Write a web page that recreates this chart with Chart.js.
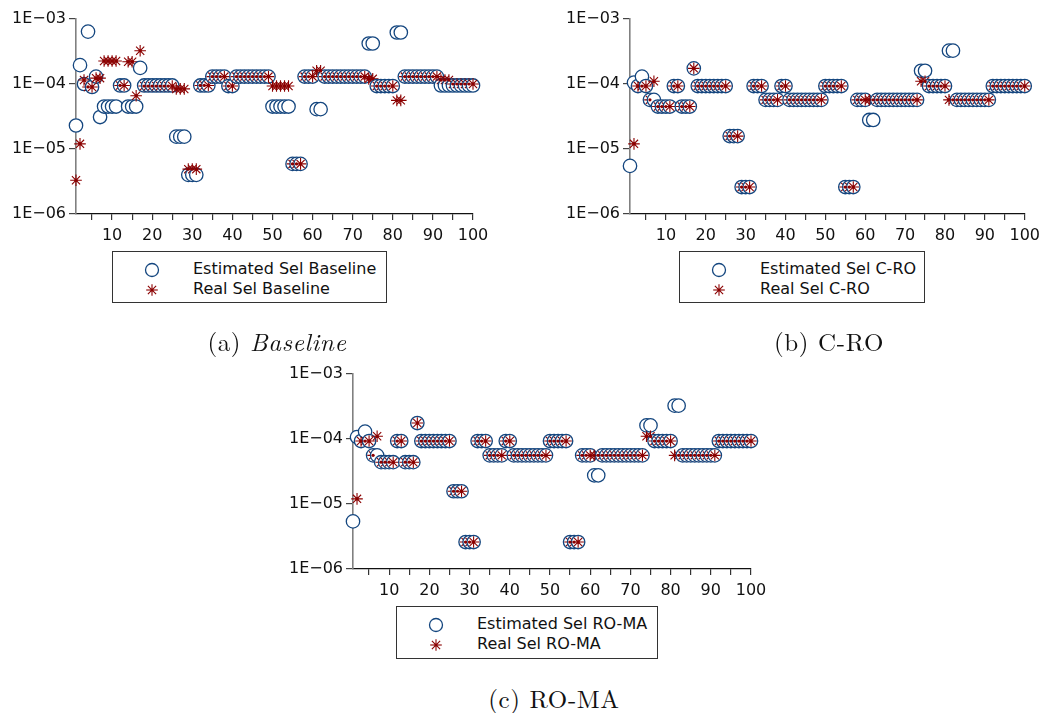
<!DOCTYPE html>
<html>
<head>
<meta charset="utf-8">
<script src="https://cdn.jsdelivr.net/npm/chart.js@4.4.0/dist/chart.umd.min.js"></script>
<style>
  body { margin: 0; background: #fff; width: 1046px; height: 713px; position: relative; overflow: hidden; }
  .panel { position: absolute; }
  .legend { position: absolute; border: 1.3px solid #333; background: #fff; font-family: "DejaVu Sans", sans-serif; font-size: 16px; color: #111; box-sizing: border-box; }
  .legend .row { position: absolute; left: 0; height: 20px; line-height: 20px; white-space: nowrap; }
  .legend svg { position: absolute; top: 3px; }
  .legend span { position: absolute; }
  .caption { position: absolute; font-family: "Latin Modern Roman", "CMU Serif", "Liberation Serif", serif; font-size: 25px; letter-spacing: 0.6px; color: #111; text-align: center; width: 300px; }
</style>
</head>
<body>

<div class="panel" style="left:0px; top:0px; width:500px; height:240px;"><canvas id="chartA"></canvas></div>
<div class="panel" style="left:554px; top:0px; width:492px; height:240px;"><canvas id="chartB"></canvas></div>
<div class="panel" style="left:277px; top:355px; width:500px; height:240px;"><canvas id="chartC"></canvas></div>

<div id="legA" class="legend" style="left:112px; top:251px; width:275px; height:52px;"></div>
<div id="legB" class="legend" style="left:679px; top:251px; width:246px; height:52px;"></div>
<div id="legC" class="legend" style="left:396px; top:606px; width:262px; height:53px;"></div>

<div class="caption" style="left:127px; top:323px;">(a) <i>Baseline</i></div>
<div class="caption" style="left:679px; top:323px;">(b) C-RO</div>
<div class="caption" style="left:404px; top:680px;">(c) RO-MA</div>

<script>
// query index 1..100
var queries = [];
for (var q = 1; q <= 100; q++) queries.push(q);

var xTicks = [5, 10, 15, 20, 25, 30, 35, 40, 45, 50, 55, 60, 65, 70, 75, 80, 85, 90, 95, 100];
var yTicks = [1e-6, 1e-5, 1e-4, 1e-3];
var yTickLabels = ['1E\u221206', '1E\u221205', '1E\u221204', '1E\u221203'];

// (a) Baseline
var estBaseline = [
  2.3e-5, 1.95e-4, 1.0e-4, 6.4e-4, 9.0e-5, 1.3e-4, 3.1e-5, 4.5e-5, 4.5e-5, 4.5e-5,
  4.5e-5, 9.5e-5, 9.5e-5, 4.5e-5, 4.5e-5, 4.5e-5, 1.77e-4, 9.5e-5, 9.5e-5, 9.5e-5,
  9.5e-5, 9.5e-5, 9.5e-5, 9.5e-5, 9.5e-5, 1.55e-5, 1.55e-5, 1.55e-5, 4.0e-6, 4.0e-6,
  4.0e-6, 9.5e-5, 9.5e-5, 9.5e-5, 1.3e-4, 1.3e-4, 1.3e-4, 1.3e-4, 9.3e-5, 9.3e-5,
  1.3e-4, 1.3e-4, 1.3e-4, 1.3e-4, 1.3e-4, 1.3e-4, 1.3e-4, 1.3e-4, 1.3e-4, 4.5e-5,
  4.5e-5, 4.5e-5, 4.5e-5, 4.5e-5, 5.9e-6, 5.9e-6, 5.9e-6, 1.3e-4, 1.3e-4, 1.3e-4,
  4.1e-5, 4.1e-5, 1.3e-4, 1.3e-4, 1.3e-4, 1.3e-4, 1.3e-4, 1.3e-4, 1.3e-4, 1.3e-4,
  1.3e-4, 1.3e-4, 1.3e-4, 4.2e-4, 4.2e-4, 9.3e-5, 9.3e-5, 9.3e-5, 9.3e-5, 9.3e-5,
  6.2e-4, 6.2e-4, 1.3e-4, 1.3e-4, 1.3e-4, 1.3e-4, 1.3e-4, 1.3e-4, 1.3e-4, 1.3e-4,
  1.3e-4, 9.5e-5, 9.5e-5, 9.5e-5, 9.5e-5, 9.5e-5, 9.5e-5, 9.5e-5, 9.5e-5, 9.5e-5
];
var realBaseline = [
  3.3e-6, 1.2e-5, 1.15e-4, 9.0e-5, 9.0e-5, 1.23e-4, 1.23e-4, 2.26e-4, 2.26e-4, 2.26e-4,
  2.26e-4, 9.5e-5, 9.5e-5, 2.2e-4, 2.2e-4, 6.6e-5, 3.25e-4, 9.3e-5, 9.3e-5, 9.3e-5,
  9.3e-5, 9.3e-5, 9.3e-5, 9.3e-5, 9.3e-5, 8.4e-5, 8.4e-5, 8.4e-5, 4.9e-6, 4.9e-6,
  4.9e-6, 9.5e-5, 9.5e-5, 9.5e-5, 1.3e-4, 1.3e-4, 1.3e-4, 1.3e-4, 9.3e-5, 9.3e-5,
  1.3e-4, 1.3e-4, 1.3e-4, 1.3e-4, 1.3e-4, 1.3e-4, 1.3e-4, 1.3e-4, 1.3e-4, 9.3e-5,
  9.3e-5, 9.3e-5, 9.3e-5, 9.3e-5, 5.9e-6, 5.9e-6, 5.9e-6, 1.3e-4, 1.3e-4, 1.3e-4,
  1.6e-4, 1.6e-4, 1.3e-4, 1.3e-4, 1.3e-4, 1.3e-4, 1.3e-4, 1.3e-4, 1.3e-4, 1.3e-4,
  1.3e-4, 1.3e-4, 1.3e-4, 1.2e-4, 1.2e-4, 9.3e-5, 9.3e-5, 9.3e-5, 9.3e-5, 9.3e-5,
  5.6e-5, 5.6e-5, 1.3e-4, 1.3e-4, 1.3e-4, 1.3e-4, 1.3e-4, 1.3e-4, 1.3e-4, 1.3e-4,
  1.3e-4, 1.15e-4, 1.15e-4, 1.15e-4, 1.0e-4, 1.0e-4, 1.0e-4, 1.0e-4, 1.0e-4, 1.0e-4
];

// (b) C-RO
var estCRO = [
  5.5e-6, 1.05e-4, 9.3e-5, 1.3e-4, 9.3e-5, 5.7e-5, 5.7e-5, 4.5e-5, 4.5e-5, 4.5e-5,
  4.5e-5, 9.3e-5, 9.3e-5, 4.5e-5, 4.5e-5, 4.5e-5, 1.74e-4, 9.3e-5, 9.3e-5, 9.3e-5,
  9.3e-5, 9.3e-5, 9.3e-5, 9.3e-5, 9.3e-5, 1.58e-5, 1.58e-5, 1.58e-5, 2.6e-6, 2.6e-6,
  2.6e-6, 9.3e-5, 9.3e-5, 9.3e-5, 5.7e-5, 5.7e-5, 5.7e-5, 5.7e-5, 9.3e-5, 9.3e-5,
  5.7e-5, 5.7e-5, 5.7e-5, 5.7e-5, 5.7e-5, 5.7e-5, 5.7e-5, 5.7e-5, 5.7e-5, 9.3e-5,
  9.3e-5, 9.3e-5, 9.3e-5, 9.3e-5, 2.6e-6, 2.6e-6, 2.6e-6, 5.7e-5, 5.7e-5, 5.7e-5,
  2.8e-5, 2.8e-5, 5.7e-5, 5.7e-5, 5.7e-5, 5.7e-5, 5.7e-5, 5.7e-5, 5.7e-5, 5.7e-5,
  5.7e-5, 5.7e-5, 5.7e-5, 1.6e-4, 1.6e-4, 9.3e-5, 9.3e-5, 9.3e-5, 9.3e-5, 9.3e-5,
  3.26e-4, 3.26e-4, 5.7e-5, 5.7e-5, 5.7e-5, 5.7e-5, 5.7e-5, 5.7e-5, 5.7e-5, 5.7e-5,
  5.7e-5, 9.3e-5, 9.3e-5, 9.3e-5, 9.3e-5, 9.3e-5, 9.3e-5, 9.3e-5, 9.3e-5, 9.3e-5
];
var realCRO = [
  null, 1.2e-5, 9.3e-5, 9.3e-5, 9.3e-5, 5.7e-5, 1.1e-4, 4.5e-5, 4.5e-5, 4.5e-5,
  4.5e-5, 9.3e-5, 9.3e-5, 4.5e-5, 4.5e-5, 4.5e-5, 1.74e-4, 9.3e-5, 9.3e-5, 9.3e-5,
  9.3e-5, 9.3e-5, 9.3e-5, 9.3e-5, 9.3e-5, 1.58e-5, 1.58e-5, 1.58e-5, 2.6e-6, 2.6e-6,
  2.6e-6, 9.3e-5, 9.3e-5, 9.3e-5, 5.7e-5, 5.7e-5, 5.7e-5, 5.7e-5, 9.3e-5, 9.3e-5,
  5.7e-5, 5.7e-5, 5.7e-5, 5.7e-5, 5.7e-5, 5.7e-5, 5.7e-5, 5.7e-5, 5.7e-5, 9.3e-5,
  9.3e-5, 9.3e-5, 9.3e-5, 9.3e-5, 2.6e-6, 2.6e-6, 2.6e-6, 5.7e-5, 5.7e-5, 5.7e-5,
  5.7e-5, 5.7e-5, 5.7e-5, 5.7e-5, 5.7e-5, 5.7e-5, 5.7e-5, 5.7e-5, 5.7e-5, 5.7e-5,
  5.7e-5, 5.7e-5, 5.7e-5, 1.1e-4, 1.1e-4, 9.3e-5, 9.3e-5, 9.3e-5, 9.3e-5, 9.3e-5,
  5.7e-5, 5.7e-5, 5.7e-5, 5.7e-5, 5.7e-5, 5.7e-5, 5.7e-5, 5.7e-5, 5.7e-5, 5.7e-5,
  5.7e-5, 9.3e-5, 9.3e-5, 9.3e-5, 9.3e-5, 9.3e-5, 9.3e-5, 9.3e-5, 9.3e-5, 9.3e-5
];

// (c) RO-MA
var estROMA = [
  5.4e-6, 1.07e-4, 9.3e-5, 1.3e-4, 9.3e-5, 5.6e-5, 5.6e-5, 4.4e-5, 4.4e-5, 4.4e-5,
  4.4e-5, 9.3e-5, 9.3e-5, 4.4e-5, 4.4e-5, 4.4e-5, 1.76e-4, 9.3e-5, 9.3e-5, 9.3e-5,
  9.3e-5, 9.3e-5, 9.3e-5, 9.3e-5, 9.3e-5, 1.57e-5, 1.57e-5, 1.57e-5, 2.6e-6, 2.6e-6,
  2.6e-6, 9.3e-5, 9.3e-5, 9.3e-5, 5.6e-5, 5.6e-5, 5.6e-5, 5.6e-5, 9.3e-5, 9.3e-5,
  5.6e-5, 5.6e-5, 5.6e-5, 5.6e-5, 5.6e-5, 5.6e-5, 5.6e-5, 5.6e-5, 5.6e-5, 9.3e-5,
  9.3e-5, 9.3e-5, 9.3e-5, 9.3e-5, 2.6e-6, 2.6e-6, 2.6e-6, 5.6e-5, 5.6e-5, 5.6e-5,
  2.76e-5, 2.76e-5, 5.6e-5, 5.6e-5, 5.6e-5, 5.6e-5, 5.6e-5, 5.6e-5, 5.6e-5, 5.6e-5,
  5.6e-5, 5.6e-5, 5.6e-5, 1.62e-4, 1.62e-4, 9.3e-5, 9.3e-5, 9.3e-5, 9.3e-5, 9.3e-5,
  3.26e-4, 3.26e-4, 5.6e-5, 5.6e-5, 5.6e-5, 5.6e-5, 5.6e-5, 5.6e-5, 5.6e-5, 5.6e-5,
  5.6e-5, 9.3e-5, 9.3e-5, 9.3e-5, 9.3e-5, 9.3e-5, 9.3e-5, 9.3e-5, 9.3e-5, 9.3e-5
];
var realROMA = [
  null, 1.2e-5, 9.3e-5, 9.3e-5, 9.3e-5, 5.6e-5, 1.1e-4, 4.4e-5, 4.4e-5, 4.4e-5,
  4.4e-5, 9.3e-5, 9.3e-5, 4.4e-5, 4.4e-5, 4.4e-5, 1.76e-4, 9.3e-5, 9.3e-5, 9.3e-5,
  9.3e-5, 9.3e-5, 9.3e-5, 9.3e-5, 9.3e-5, 1.57e-5, 1.57e-5, 1.57e-5, 2.6e-6, 2.6e-6,
  2.6e-6, 9.3e-5, 9.3e-5, 9.3e-5, 5.6e-5, 5.6e-5, 5.6e-5, 5.6e-5, 9.3e-5, 9.3e-5,
  5.6e-5, 5.6e-5, 5.6e-5, 5.6e-5, 5.6e-5, 5.6e-5, 5.6e-5, 5.6e-5, 5.6e-5, 9.3e-5,
  9.3e-5, 9.3e-5, 9.3e-5, 9.3e-5, 2.6e-6, 2.6e-6, 2.6e-6, 5.6e-5, 5.6e-5, 5.6e-5,
  5.6e-5, 5.6e-5, 5.6e-5, 5.6e-5, 5.6e-5, 5.6e-5, 5.6e-5, 5.6e-5, 5.6e-5, 5.6e-5,
  5.6e-5, 5.6e-5, 5.6e-5, 1.1e-4, 1.1e-4, 9.3e-5, 9.3e-5, 9.3e-5, 9.3e-5, 9.3e-5,
  5.6e-5, 5.6e-5, 5.6e-5, 5.6e-5, 5.6e-5, 5.6e-5, 5.6e-5, 5.6e-5, 5.6e-5, 5.6e-5,
  5.6e-5, 9.3e-5, 9.3e-5, 9.3e-5, 9.3e-5, 9.3e-5, 9.3e-5, 9.3e-5, 9.3e-5, 9.3e-5
];

var circleColor = '#14467f';
var starColor = '#8b0000';

// one dataset per point so circle i, star i, circle i+1 ... are painted in turn
function buildDatasets(est, real) {
    var sets = [];
    var n = queries.length;
    for (var i = 0; i < n; i++) {
        sets.push({
            data: [{ x: queries[i], y: est[i] }],
            pointStyle: 'circle',
            pointRadius: 6.7,
            pointBorderWidth: 1.3,
            pointBorderColor: circleColor,
            pointBackgroundColor: '#ffffff',
            showLine: false,
            clip: false,
            order: 2 * (n - i) + 1
        });
        if (real[i] !== null) {
            sets.push({
                data: [{ x: queries[i], y: real[i] }],
                pointStyle: 'star',
                pointRadius: 5.8,
                pointBorderWidth: 1.1,
                pointBorderColor: starColor,
                pointBackgroundColor: starColor,
                showLine: false,
                clip: false,
                order: 2 * (n - i)
            });
        }
    }
    return sets;
}

// small dark dot in the middle of every star, like the reference markers
var starDot = {
    id: 'starDot',
    afterDatasetsDraw: function (chart) {
        var ctx = chart.ctx;
        ctx.save();
        chart.data.datasets.forEach(function (ds, k) {
            if (ds.pointStyle !== 'star') return;
            var meta = chart.getDatasetMeta(k);
            meta.data.forEach(function (pt) {
                ctx.fillStyle = starColor;
                ctx.beginPath();
                ctx.arc(pt.x, pt.y, 1.6, 0, Math.PI * 2);
                ctx.fill();
            });
        });
        ctx.restore();
    }
};

function makeChart(id, est, real, rightPad) {
    var ctx = document.getElementById(id).getContext('2d');
    return new Chart(ctx, {
        type: 'scatter',
        data: { datasets: buildDatasets(est, real) },
        options: {
            responsive: true,
            maintainAspectRatio: false,
            animation: false,
            events: [],
            layout: { padding: { top: 19, right: rightPad, left: 0, bottom: 0 } },
            plugins: {
                legend: { display: false },
                tooltip: { enabled: false }
            },
            scales: {
                x: {
                    type: 'linear',
                    min: 1,
                    max: 100,
                    afterBuildTicks: function (scale) {
                        scale.ticks = xTicks.map(function (v) { return { value: v }; });
                    },
                    afterFit: function (scale) { scale.height = 26; },
                    ticks: {
                        autoSkip: false,
                        maxRotation: 0,
                        padding: 6,
                        color: '#111',
                        font: { family: 'DejaVu Sans', size: 16 },
                        callback: function (v) { return v % 10 === 0 ? String(v) : ''; }
                    },
                    grid: { display: true, drawOnChartArea: false, drawTicks: true, tickLength: 6, color: '#333', lineWidth: 1.2 },
                    border: { display: true, color: '#111', width: 1.3 }
                },
                y: {
                    type: 'logarithmic',
                    min: 1e-6,
                    max: 1e-3,
                    afterBuildTicks: function (scale) {
                        scale.ticks = yTicks.map(function (v) { return { value: v }; });
                    },
                    afterFit: function (scale) { scale.width = 76; },
                    ticks: {
                        autoSkip: false,
                        padding: 3,
                        color: '#111',
                        font: { family: 'DejaVu Sans', size: 16 },
                        callback: function (v) {
                            var k = yTicks.indexOf(v);
                            return k >= 0 ? yTickLabels[k] : '';
                        }
                    },
                    grid: { display: true, drawOnChartArea: false, drawTicks: true, tickLength: 7, color: '#444', lineWidth: 1.2 },
                    border: { display: true, color: '#808080', width: 1.6 }
                }
            }
        },
        plugins: [starDot]
    });
}

makeChart('chartA', estBaseline, realBaseline, 27);
makeChart('chartB', estCRO, realCRO, 18);
makeChart('chartC', estROMA, realROMA, 26);

// boxed legends below each panel
var circleSvg = '<svg width="16" height="16" viewBox="0 0 16 16"><circle cx="8" cy="8" r="6.5" fill="#fff" stroke="' + circleColor + '" stroke-width="1.3"/></svg>';
var starSvg = '<svg width="16" height="16" viewBox="0 0 16 16" stroke="' + starColor + '" stroke-width="1.1">' +
    '<line x1="2.2" y1="8" x2="13.8" y2="8"/><line x1="8" y1="2.2" x2="8" y2="13.8"/>' +
    '<line x1="3.9" y1="3.9" x2="12.1" y2="12.1"/><line x1="3.9" y1="12.1" x2="12.1" y2="3.9"/>' +
    '<circle cx="8" cy="8" r="1.6" fill="' + starColor + '" stroke="none"/></svg>';

function fillLegend(id, estLabel, realLabel) {
    var el = document.getElementById(id);
    el.innerHTML =
        '<div class="row" style="top:7px;">' + circleSvg.replace('<svg', '<svg style="left:31px"') + '<span style="left:80px;">' + estLabel + '</span></div>' +
        '<div class="row" style="top:27px;">' + starSvg.replace('<svg', '<svg style="left:31px"') + '<span style="left:80px;">' + realLabel + '</span></div>';
}
fillLegend('legA', 'Estimated Sel Baseline', 'Real Sel Baseline');
fillLegend('legB', 'Estimated Sel C-RO', 'Real Sel C-RO');
fillLegend('legC', 'Estimated Sel RO-MA', 'Real Sel RO-MA');
</script>
</body>
</html>
